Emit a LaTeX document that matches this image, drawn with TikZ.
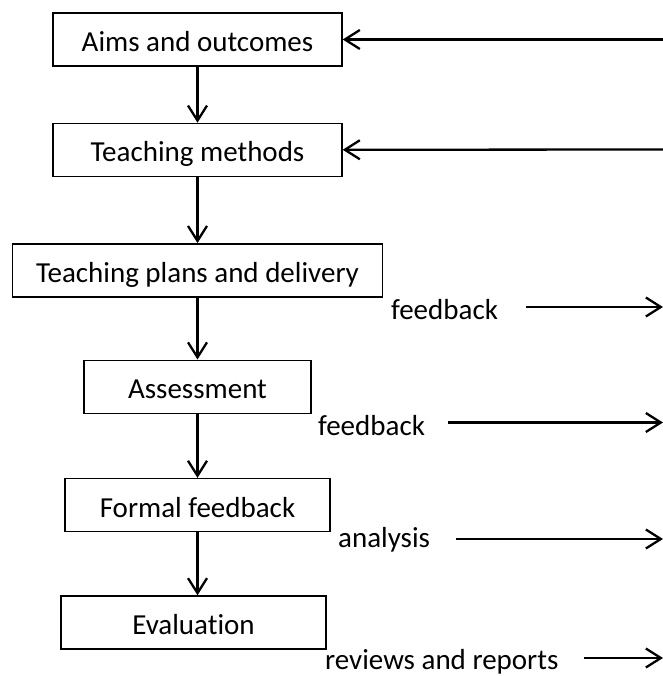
\documentclass[tikz,border=0pt]{standalone}
\usepackage{fontspec}
\setmainfont{Carlito}[Ligatures=NoCommon]
\usepackage{tikz}
\usetikzlibrary{arrows.meta,positioning}

\begin{document}
\begin{tikzpicture}[->,>={Straight Barb[length=15pt,width=19pt]},line width=2.3pt,
                    x=1pt,y=-1pt,every node/.style={font=\fontsize{29pt}{34pt}\selectfont}]
  \tikzstyle{stage}=[draw,line width=1.4pt,minimum height=53pt,text height=24pt,text depth=0pt]
  \tikzstyle{note}=[inner sep=0pt,anchor=base west]
  \useasboundingbox (0,0) rectangle (662,676);

  \node[stage,minimum width=289pt] (A) at (197.5,39.5) {Aims and outcomes};
  \node[stage,minimum width=289pt] (B) [below=56pt of A] {Teaching methods};
  \node[stage,minimum width=370pt] (C) [below=66pt of B] {Teaching plans and delivery};
  \node[stage,minimum width=227pt] (D) [below=62pt of C] {Assessment};
  \node[stage,minimum width=265pt] (E) [below=64pt of D] {Formal feedback};
  \node[stage,minimum width=265pt] (F) [below=63pt of E,xshift=-4pt] {Evaluation};

  \node[note] (L1) at (390,319) {feedback};
  \node[note] (L2) at (317,435) {feedback};
  \node[note] (L3) at (337,547) {analysis};
  \node[note] (L4) at (324,669) {reviews and reports};

  \coordinate (O1) at (663,39.5);
  \coordinate (O2) at (663,149.5);
  \coordinate (E1) at (663,307);
  \coordinate (E2) at (663,422.5);
  \coordinate (E3) at (663,539);
  \coordinate (E4) at (663,658);

  \path (A) edge (B)
   (B) edge (C)
   (C) edge (D)
   (D) edge (E)
   (E) edge (E |- F.north)
   (O1) edge (A)
   (O2) edge (B)
   (L1.east |- E1) edge [shorten <=27pt] (E1)
   (L2.east |- E2) edge [shorten <=22pt] (E2)
   (L3.east |- E3) edge [shorten <=25pt] (E3)
   (L4.east |- E4) edge [shorten <=24pt] (E4);
\end{tikzpicture}
\end{document}
